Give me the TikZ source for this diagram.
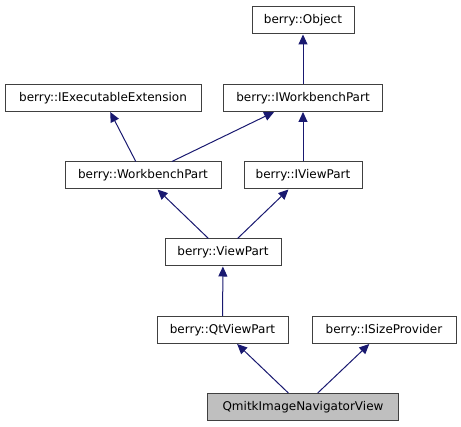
\documentclass[tikz,border=0pt]{standalone}
\usepackage{fontspec}
\setmainfont{DejaVu Sans}
\usetikzlibrary{arrows.meta}

\definecolor{edgeblue}{HTML}{191970}
\definecolor{boxgray}{HTML}{BFBFBF}

\begin{document}
\begin{tikzpicture}[x=1pt,y=-1pt,
  class node/.style={rectangle,draw=black!75,line width=1pt,inner sep=0pt,
    minimum height=27pt,font=\fontsize{12}{14}\selectfont},
  inherit/.style={edgeblue,line width=1pt,-{Triangle[length=10pt,width=9pt]}}]

\useasboundingbox (0,0) rectangle (461,427);

\node[class node,minimum width=102pt] (obj) at (303,20.5) {berry::Object};
\node[class node,minimum width=196pt] (iext) at (103,98) {berry::IExecutableExtension};
\node[class node,minimum width=159pt] (iwbp) at (303,98) {berry::IWorkbenchPart};
\node[class node,minimum width=156pt] (wbp) at (143,175.5) {berry::WorkbenchPart};
\node[class node,minimum width=118pt] (ivp) at (303,175.5) {berry::IViewPart};
\node[class node,minimum width=116pt] (vp) at (223,252.5) {berry::ViewPart};
\node[class node,minimum width=131pt] (qtvp) at (222.5,330) {berry::QtViewPart};
\node[class node,minimum width=144pt] (isp) at (384,330) {berry::ISizeProvider};
\node[class node,minimum width=191pt,fill=boxgray] (nav) at (303,407) {QmitkImageNavigatorView};


\path (iwbp) [inherit] edge (obj);
\path (wbp) [inherit] edge (iext);
\path (wbp) [inherit] edge (iwbp);
\path (ivp) [inherit] edge (iwbp);

\path (vp) [inherit] edge (wbp);
\path (vp) [inherit] edge (ivp);
\path (qtvp) [inherit] edge (vp);

\path (nav) [inherit] edge (qtvp);
\path (nav) [inherit] edge (isp);
\end{tikzpicture}
\end{document}
